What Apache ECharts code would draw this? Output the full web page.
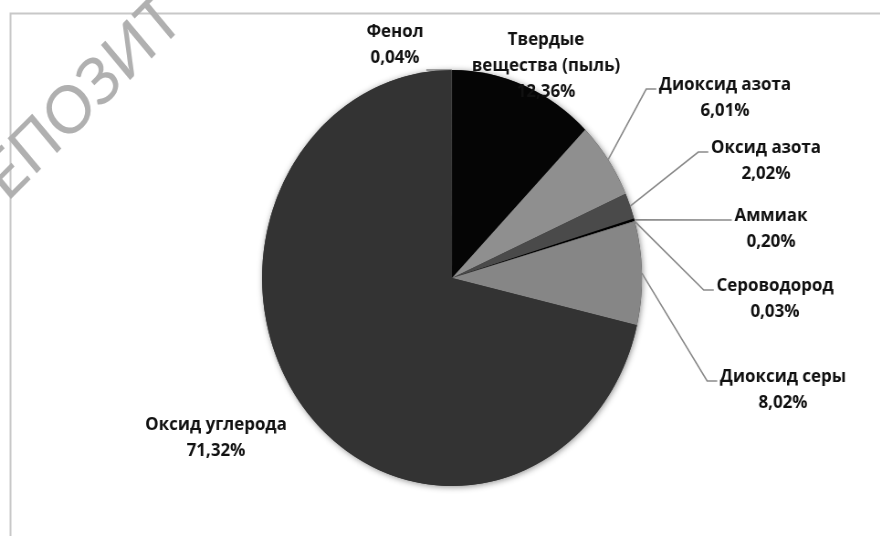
<!DOCTYPE html>
<html>
<head>
<meta charset="utf-8">
<script src="https://cdn.jsdelivr.net/npm/echarts@6/dist/echarts.min.js"></script>
<style>
html,body{margin:0;padding:0;background:#fff;overflow:hidden}
#wrap{width:880px;height:536px;overflow:hidden;position:relative}
#c{height:536px;transform-origin:0 0;position:absolute;left:0;top:0}
</style>
</head>
<body>
<div id="wrap"><div id="c"></div></div>
<script>
// Data (clockwise from 12 o'clock)
const categories = ['Твердые вещества (пыль)', 'Диоксид азота', 'Оксид азота', 'Аммиак', 'Сероводород', 'Диоксид серы', 'Оксид углерода', 'Фенол'];
const values = [12.36, 6.01, 2.02, 0.20, 0.03, 8.02, 71.32, 0.04];
const sliceColors = ['#050505', '#8f8f8f', '#4a4a4a', '#000000', '#a0a0a0', '#868686', '#333333', '#5a5a5a'];
const showLine = [false, true, true, true, true, true, false, true];
// Layout: label block centres (screen px)
const labelPos = [[546, 66], [725, 98], [766, 161], [771, 229], [775, 299], [783, 390], [216, 438], [395, 45]];

// the reference pie is slightly compressed horizontally
const SX = 0.913;
const W = Math.round(880 / SX);
const el = document.getElementById('c');
el.style.width = W + 'px';
el.style.transform = 'scaleX(' + SX + ')';

const CX = 452 / SX, CY = 278, R = 208;
const total = values.reduce((a, b) => a + b, 0);
const cum = [];
values.reduce((a, v, i) => { cum[i] = a; return a + v; }, 0);
function arcPoint(i) {
  const t = 2 * Math.PI * (cum[i] + values[i] / 2) / total;
  return [CX + R * Math.sin(t), CY - R * Math.cos(t)];
}

const chart = echarts.init(el);
const fmt = v => v.toFixed(2).replace('.', ',') + '%';

chart.setOption({
  backgroundColor: '#ffffff',
  animation: false,
  graphic: [
    { type: 'rect', z: 0, shape: { x: 11.5, y: 13.5, width: 1000, height: 560 }, style: { fill: 'none', stroke: '#c8c8c8', lineWidth: 2 } },
    { type: 'text', z: 100, x: -36, y: 214, rotation: 42.4 * Math.PI / 180,
      style: { text: 'РЕПОЗИТ', font: '400 66px Lato', fill: '#b0b0b0', align: 'left', verticalAlign: 'middle' } }
  ],
  series: [
    {
      type: 'pie', silent: true, z: 1,
      center: [CX, CY], radius: R,
      label: { show: false }, labelLine: { show: false },
      itemStyle: { color: '#333', shadowBlur: 6, shadowColor: 'rgba(0,0,0,0.45)', shadowOffsetX: 1, shadowOffsetY: 1 },
      data: [{ value: 1, name: '' }]
    },
    {
      type: 'pie', z: 2,
      center: [CX, CY], radius: R,
      startAngle: 90, clockwise: true,
      avoidLabelOverlap: false,
      itemStyle: { borderWidth: 0 },
      label: {
        show: true,
        fontFamily: 'Open Sans', fontWeight: 'bold', fontSize: 18.5, lineHeight: 26, color: '#111',
        align: 'center',
        formatter: p => (p.name === 'Твердые вещества (пыль)' ? 'Твердые\nвещества (пыль)' : p.name) + '\n' + fmt(p.value)
      },
      labelLine: { show: true, lineStyle: { color: '#8a8a8a', width: 1.6 } },
      labelLayout: p => {
        const i = p.dataIndex;
        const lx = labelPos[i][0] / SX, ly = labelPos[i][1];
        const out = { x: lx, y: ly, align: 'center', verticalAlign: 'middle' };
        if (showLine[i]) {
          const a = arcPoint(i);
          const halfW = p.labelRect.width / 2;
          if (lx < a[0]) {
            out.labelLinePoints = [a, [lx + halfW + 3, a[1]], [lx + halfW + 3, a[1]]];
          } else {
            const sy = ly - 9;
            const sx = lx - halfW - 3;
            out.labelLinePoints = [a, [sx - 11, sy], [sx, sy]];
          }
        }
        return out;
      },
      data: categories.map((n, i) => ({
        name: n, value: values[i],
        itemStyle: { color: sliceColors[i] },
        labelLine: { show: showLine[i] }
      }))
    }
  ]
});
</script>
</body>
</html>
